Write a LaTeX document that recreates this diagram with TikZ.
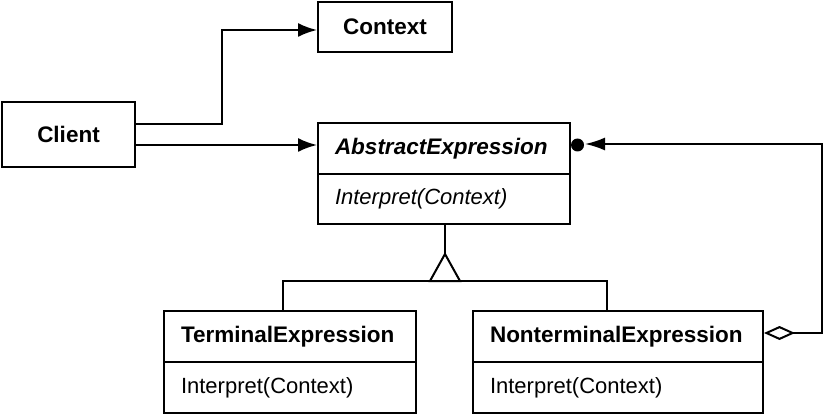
\documentclass[tikz,border=0pt]{standalone}
\usepackage{fontspec}
\setmainfont{Liberation Sans}
\usetikzlibrary{arrows.meta}
\begin{document}
\begin{tikzpicture}[x=1pt,y=-1pt,
  line width=2pt,
  bfont/.style={font=\fontsize{22.5}{26}\selectfont\bfseries},
  rfont/.style={font=\fontsize{22}{26}\selectfont},
  box/.style={draw,rectangle,inner sep=0pt,line width=2pt},
  cls/.style={box,minimum width=#1,text width=#1-34pt,align=left,minimum height=51pt},
  arr/.style={-{Latex[length=19pt,width=14pt]}},
]
\useasboundingbox (0,0) rectangle (825,417);
% simple boxes
\node[box,bfont,minimum width=134pt,minimum height=50pt] (ctx) at (385,27) {Context};
\node[box,bfont,minimum width=133pt,minimum height=65pt] (client) at (68.5,134.5) {Client};
% AbstractExpression
\node[cls=252pt,font=\fontsize{22.5}{26}\selectfont\bfseries\itshape] (absN) at (444,148.5) {AbstractExpression};
\node[cls=252pt,minimum height=50pt,font=\fontsize{22}{26}\selectfont\itshape] (absM) at (444,199) {Interpret(Context)};
% TerminalExpression
\node[cls=252pt,bfont] (termN) at (290,336.5) {TerminalExpression};
\node[cls=252pt,rfont] (termM) at (290,387.5) {Interpret(Context)};
% NonterminalExpression
\node[cls=290pt,bfont] (ntN) at (618,336.5) {NonterminalExpression};
\node[cls=290pt,rfont] (ntM) at (618,387.5) {Interpret(Context)};
% client connectors
\draw[arr] (client.east |- 0,124) -- (222,124) |- (ctx.west |- 0,30);
\draw[arr] (client.east |- 0,145) -- (absN.west |- 0,145);
% inheritance
\coordinate (apex) at (445,254);
\draw (absM.south -| apex) -- (apex);
\draw[line join=miter] (430,281) -- (apex) -- (460,281) -- cycle;
\draw (termN.north -| 283,0) -- (283,281) -- (607,281) -- (ntN.north -| 607,0);
% aggregation
\coordinate (dot) at (577.5,145);
\draw[{Diamond[open,length=31pt,width=14pt,line width=2pt]}-{Latex[length=20pt,width=13pt]}]
  (ntN.east |- 0,333) -- (822,333) -- (822,144) -- (585,144);
\fill (dot) circle (6.5pt);
\end{tikzpicture}
\end{document}
